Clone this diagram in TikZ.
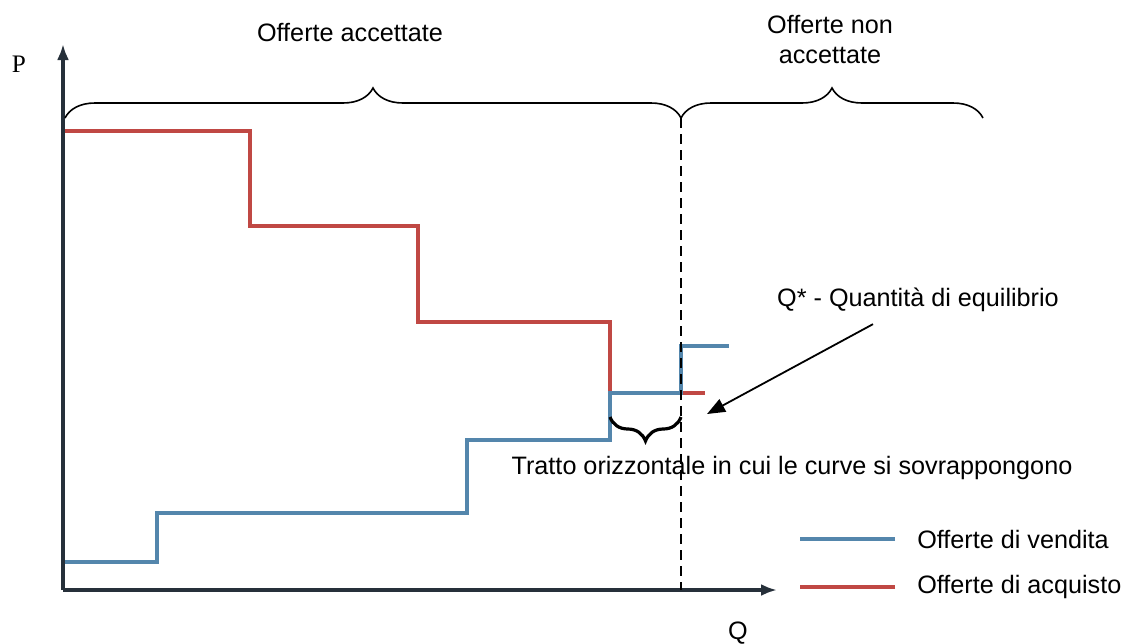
\documentclass[tikz,border=0pt]{standalone}
\usepackage{fontspec}
\setmainfont{Liberation Sans}
\newfontfamily\serifP{Liberation Serif}
\usetikzlibrary{arrows.meta,decorations.pathreplacing}

\definecolor{vendBlue}{RGB}{84,134,172}
\definecolor{acqRed}{RGB}{192,72,68}
\definecolor{axisDark}{RGB}{38,48,58}

\tikzset{every picture/.style={line width=0.75pt}}
\tikzset{
  lbl/.style={inner sep=0.75pt,font=\fontsize{12.6}{15}\selectfont},
  vendita/.style={draw=vendBlue,line width=1.6pt},
  acquisto/.style={draw=acqRed,line width=1.6pt},
  axisline/.style={draw=axisDark,line width=1.6pt,-{Latex[length=8pt,width=6pt]}},
  bigbrace/.style={decorate,decoration={brace,amplitude=15pt},line width=0.8pt},
}

\begin{document}
\begin{tikzpicture}[x=0.5pt,y=0.5pt,yscale=-1,xscale=1]
\useasboundingbox (0,0) rectangle (1129,643);

%Shape: Axes
\draw [axisline] (63,590) -- (63,44) ;
\draw [axisline] (63,590) -- (777,590) ;

%Straight Lines -- acquisto (red)
\draw [acquisto] (65,131) -- (250,131) -- (250,226) -- (418,226) -- (418,322) -- (610,322) -- (610,393) -- (705,393) ;
%Straight Lines -- vendita (blue)
\draw [vendita] (65,562) -- (157,562) -- (157,513) -- (467,513) -- (467,440) -- (610,440) -- (610,393) -- (681,393) -- (681,346) -- (729,346) ;

%Straight Lines -- equilibrium
\draw [dash pattern={on 5pt off 3pt},line width=1pt] (681,118) -- (681,590) ;

%Braces
\draw [bigbrace] (65,118) -- (681,118) ;
\draw [bigbrace] (681,118) -- (983,118) ;
\draw [decorate,decoration={brace,mirror,amplitude=12pt},line width=1.6pt] (610,417) -- (681,417) ;

% Text Node
\node (lblP) at (19,64) [lbl,font=\serifP\fontsize{12.6}{15}\selectfont] {P};
% Text Node
\node (lblQ) at (738,633) [lbl] {Q};
% Text Node
\node (lblAccettate) at (350,33) [lbl] {Offerte accettate};
% Text Node
\node (lblNonAccettate) at (830,40) [lbl,align=center] {Offerte non\\accettate};
% Text Node
\node (lblQstar) at (918,300) [lbl] {Q* - Quantità di equilibrio};
% Text Node
\node (lblTratto) at (792,468) [lbl] {Tratto orizzontale in cui le curve si sovrappongono};

%Arrow
\coordinate (eqPoint) at (707,414);
\draw [line width=0.9pt,-{Triangle[length=9pt,width=7pt]}] (lblQstar.south)+(-45,10) -- (eqPoint) ;

%Legend
\node (legVendita) at (915,539) [lbl,anchor=west] {Offerte di vendita};
\node (legAcquisto) at (915,587) [lbl,anchor=west] {Offerte di acquisto};
\draw [vendita] ([xshift=-10pt]legVendita.west) -- ++(-95,0) ;
\draw [acquisto] ([xshift=-10pt]legAcquisto.west) -- ++(-95,0) ;

\end{tikzpicture}
\end{document}
